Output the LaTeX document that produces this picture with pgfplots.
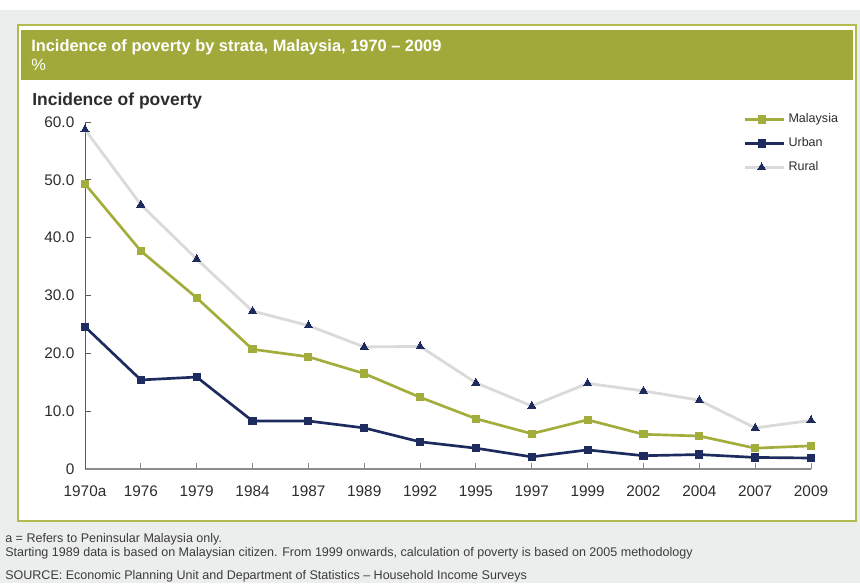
\documentclass[border=0pt]{standalone}
\usepackage{fontspec}
\setmainfont{Liberation Sans}
\usepackage{pgfplots}
\pgfplotsset{compat=1.18}
\definecolor{bggray}{RGB}{236,237,237}
\definecolor{olivebar}{RGB}{160,169,57}
\definecolor{oliveborder}{RGB}{178,188,78}
\definecolor{malolive}{RGB}{163,173,60}
\definecolor{navy}{RGB}{30,43,94}
\definecolor{ruralgray}{RGB}{218,218,218}
\definecolor{yaxisgray}{RGB}{90,90,90}
\definecolor{xaxisgray}{RGB}{140,140,140}
\definecolor{labelgray}{RGB}{45,45,45}
\definecolor{notegray}{RGB}{60,60,60}
\begin{document}
\begin{tikzpicture}
\begin{scope}[x=0.75pt,y=0.75pt]
\fill[white] (0,0) rectangle (860,583);
\useasboundingbox (0,0) rectangle (860,583);
\fill[bggray] (0,0) rectangle (860,573);
\draw[oliveborder, line width=0.9pt, fill=white] (18,558) rectangle (856,62);
\fill[olivebar] (21,553) rectangle (853,503);
\node[anchor=base west, inner sep=0pt, text=white, font=\fontsize{12.3}{14}\selectfont\bfseries] at (31,583-51.7) {Incidence of poverty by strata, Malaysia, 1970 – 2009};
\node[anchor=base west, inner sep=0pt, text=white, font=\fontsize{12.3}{14}\selectfont] at (31,583-70.7) {\%};
\node[anchor=base west, inner sep=0pt, text=labelgray, font=\fontsize{13.1}{15}\selectfont\bfseries] at (32,583-106) {Incidence of poverty};
\node[anchor=base west, inner sep=0pt, text=notegray, font=\fontsize{9.4}{11}\selectfont] at (5,583-542) {a = Refers to Peninsular Malaysia only.};
\node[anchor=base west, inner sep=0pt, text=notegray, font=\fontsize{9.4}{11}\selectfont] at (5,583-556) {Starting 1989 data is based on Malaysian citizen. From 1999 onwards, calculation of poverty is based on 2005 methodology};
\node[anchor=base west, inner sep=0pt, text=notegray, font=\fontsize{9.4}{11}\selectfont] at (5,583-579) {SOURCE: Economic Planning Unit and Department of Statistics – Household Income Surveys};
\end{scope}
\begin{axis}[
  at={(85*0.75pt,114*0.75pt)}, anchor=south west,
  scale only axis, width=544.5pt, height=260.25pt,
  xmin=0, xmax=13, ymin=0, ymax=60,
  clip=false,
  axis x line*=bottom, axis y line*=left,
  x axis line style={draw=xaxisgray, line width=1.1pt, -},
  y axis line style={draw=yaxisgray, line width=0.7pt, -},
  xtick={0,1,...,13},
  xticklabels={1970a,1976,1979,1984,1987,1989,1992,1995,1997,1999,2002,2004,2007,2009},
  ytick={0,10,20,30,40,50,60},
  yticklabels={0,10.0,20.0,30.0,40.0,50.0,60.0},
  tick align=inside, major tick length=4.5pt,
  x tick style={draw=xaxisgray, line width=0.7pt},
  y tick style={draw=yaxisgray, line width=0.7pt},
  ticklabel style={font=\fontsize{11.5}{13}\selectfont, text=labelgray},
  /pgf/number format/assume math mode=true,
  xticklabel style={yshift=-9pt},
  yticklabel style={xshift=-4.5pt},
  reverse legend,
  legend image code/.code={\path (0pt,0pt) -- (29.5pt,0pt); \draw[mark repeat=2,mark phase=2,#1] plot coordinates {(0pt,0pt) (12.4pt,0pt) (24.8pt,0pt)};},
  legend style={at={(0.907,1.033)}, anchor=north west, draw=none, fill=none,
    inner sep=0pt, font=\fontsize{9.4}{11}\selectfont, text=labelgray,
    row sep=5pt, nodes={inner sep=2pt, text height=7pt, text depth=2pt},
    legend cell align=left},
]
\addplot[color=ruralgray, line width=2.1pt, mark=triangle*, mark size=3.5pt,
  mark options={fill=navy, draw=navy, line width=0pt}] coordinates {
(0,58.7) (1,45.7) (2,36.3) (3,27.3) (4,24.8) (5,21.1) (6,21.2) (7,14.9) (8,10.9) (9,14.8) (10,13.5) (11,11.9) (12,7.1) (13,8.4)};
\addlegendentry{Rural}
\addplot[color=navy, line width=2pt, mark=square*, mark size=2.7pt,
  mark options={fill=navy, draw=navy, line width=0pt}] coordinates {
(0,24.6) (1,15.4) (2,15.9) (3,8.3) (4,8.3) (5,7.1) (6,4.7) (7,3.6) (8,2.1) (9,3.3) (10,2.3) (11,2.5) (12,2.0) (13,1.9)};
\addlegendentry{Urban}
\addplot[color=malolive, line width=2pt, mark=square*, mark size=2.7pt,
  mark options={fill=malolive, draw=malolive, line width=0pt}] coordinates {
(0,49.3) (1,37.7) (2,29.6) (3,20.7) (4,19.4) (5,16.5) (6,12.4) (7,8.7) (8,6.1) (9,8.5) (10,6.0) (11,5.7) (12,3.6) (13,4.0)};
\addlegendentry{Malaysia}
\end{axis}
\end{tikzpicture}
\end{document}
